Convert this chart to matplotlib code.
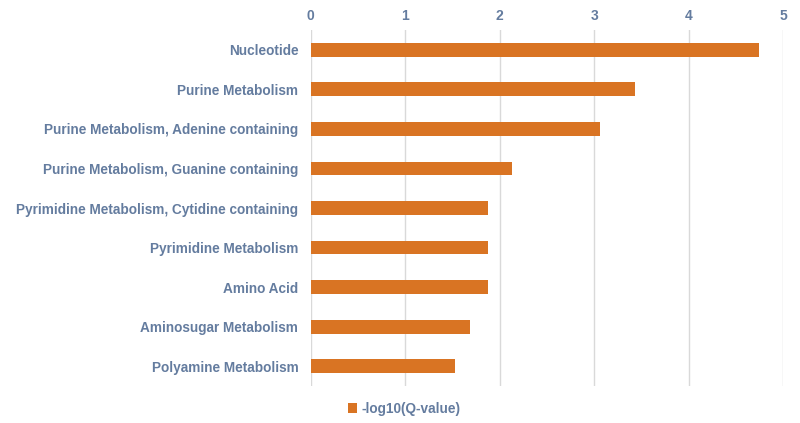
import numpy as np
import matplotlib.pyplot as plt
from matplotlib.patches import Patch

plt.rcParams['font.family'] = ['Liberation Sans', 'DejaVu Sans']

# Pathways (top to bottom) and their -log10(Q-value)
pathways = ['Nucleotide', 'Purine Metabolism',
            'Purine Metabolism, Adenine containing',
            'Purine Metabolism, Guanine containing',
            'Pyrimidine Metabolism, Cytidine containing',
            'Pyrimidine Metabolism', 'Amino Acid',
            'Aminosugar Metabolism', 'Polyamine Metabolism']
neg_log_q = [4.74, 3.43, 3.06, 2.13, 1.88, 1.88, 1.88, 1.69, 1.53]
x_ticks = [0, 1, 2, 3, 4, 5]

bar_color = '#D97423'
text_color = '#647C9F'

fig = plt.figure(figsize=(8, 4.23), dpi=100)
ax = fig.add_axes([0.3885, 0.0875, 0.5905, 0.8415])

y = np.arange(len(pathways))
ax.barh(y, neg_log_q, height=0.35, color=bar_color, zorder=3)

ax.set_ylim(len(pathways) - 0.5, -0.5)
ax.set_xlim(0, 5)
ax.set_xticks(x_ticks)
ax.set_yticks(y)
ax.set_yticklabels(pathways)
ax.xaxis.tick_top()
ax.tick_params(axis='both', length=0, colors=text_color, labelsize=9.8)
ax.tick_params(axis='y', pad=9)
ax.tick_params(axis='x', pad=5, labelsize=10)
for lbl in ax.get_xticklabels() + ax.get_yticklabels():
    lbl.set_fontweight('bold')

ax.grid(axis='x', color='#D9D9D9', linewidth=1, zorder=0)
for s in ax.spines.values():
    s.set_visible(False)

# Legend under the plot
handle = Patch(facecolor=bar_color, label='-log10(Q-value)')
leg = fig.legend(handles=[handle], loc='lower center', bbox_to_anchor=(0.505, -0.012),
                 frameon=False, handlelength=0.7, handleheight=0.7,
                 handletextpad=0.3, prop={'size': 9.8, 'weight': 'bold'})
for t in leg.get_texts():
    t.set_color(text_color)

fig.savefig('out.png', dpi=100)
plt.close()
